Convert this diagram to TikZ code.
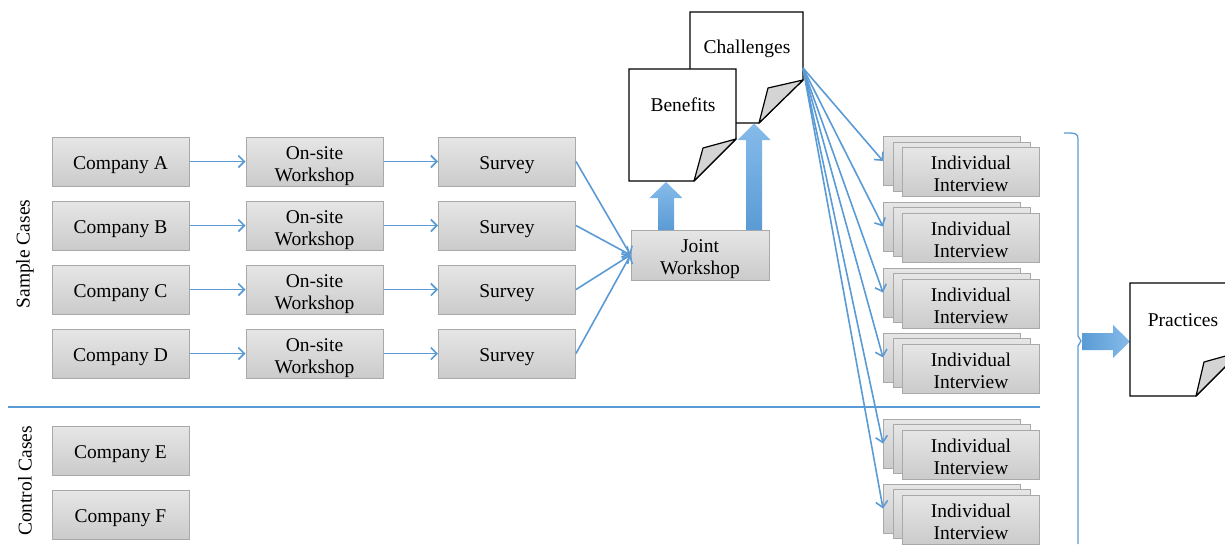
\documentclass[tikz,border=0pt]{standalone}
\usepackage{fontspec}
\setmainfont{Liberation Serif}
\usetikzlibrary{arrows.meta}
\definecolor{lineblue}{HTML}{5B9BD5}
\definecolor{arrowdark}{HTML}{5A9BD5}
\definecolor{arrowlight}{HTML}{86BBEA}
\definecolor{boxtop}{HTML}{E6E6E6}
\definecolor{boxbot}{HTML}{CBCBCB}
\definecolor{boxborder}{HTML}{A9A9A9}
\definecolor{foldgray}{HTML}{D4D4D4}
\newcommand{\myfs}{\fontsize{19.5}{22}\selectfont}
\tikzset{
  evenbase/.style={text depth=0pt, execute at begin node={\rule{0pt}{15pt}}},
  twoline/.style={text height=39pt, text depth=0pt},
  gbox/.style={draw=boxborder, line width=1pt, top color=boxtop, bottom color=boxbot,
    minimum width=137pt, minimum height=49pt, inner sep=0pt, align=center, font=\myfs, evenbase},
  conn/.style={draw=lineblue, line width=1.6pt, -{Straight Barb[length=6pt,width=12pt]}},
  plainline/.style={draw=lineblue, line width=1.3pt},
  docline/.style={draw=black, line width=1.2pt, fill=white},
  foldst/.style={draw=black, line width=1.2pt, fill=foldgray, line join=round},
  lbl/.style={font=\myfs, inner sep=0pt},
  doclbl/.style={lbl, evenbase}
}
\begin{document}
\begin{tikzpicture}[x=1pt,y=-1pt]
\useasboundingbox (0,0) rectangle (1225,544);
\clip (0,0) rectangle (1225,544);

% side labels
\node[lbl, rotate=90] (samplelbl) at (25,254) {Sample Cases};
\node[lbl, rotate=90] (controllbl) at (25,481) {Control Cases};

% separator
\draw[plainline] (8,407) -- (1040,407);

% companies
\node[gbox] (ca) at (120.5,161.5) {Company A};
\node[gbox] (cb) at (120.5,225.5) {Company B};
\node[gbox] (cc) at (120.5,289.5) {Company C};
\node[gbox] (cd) at (120.5,353.5) {Company D};
\node[gbox] (ce) at (120.5,450.5) {Company E};
\node[gbox] (cf) at (120.5,514.5) {Company F};

% workshops
\node[gbox, twoline] (wa) at (314.5,161.5) {On-site\\Workshop};
\node[gbox, twoline] (wb) at (314.5,225.5) {On-site\\Workshop};
\node[gbox, twoline] (wc) at (314.5,289.5) {On-site\\Workshop};
\node[gbox, twoline] (wd) at (314.5,353.5) {On-site\\Workshop};

% surveys
\node[gbox] (sa) at (507,161.5) {Survey};
\node[gbox] (sb) at (507,225.5) {Survey};
\node[gbox] (sc) at (507,289.5) {Survey};
\node[gbox] (sd) at (507,353.5) {Survey};

\foreach \r in {a,b,c,d}{
  \draw[conn] (c\r) -- (w\r);
  \draw[conn] (w\r) -- (s\r);
}

% documents
\filldraw[docline] (690,12) -- (803,12) -- (803,80) -- (759,123) -- (690,123) -- cycle;
\filldraw[foldst] (803,80) -- (768,88) -- (759,123) -- cycle;
\node[doclbl] (chal) at (747,46) {Challenges};
\coordinate (chout) at (803,68);

\filldraw[docline] (629,69) -- (736,69) -- (736,139) -- (694,181) -- (629,181) -- cycle;
\filldraw[foldst] (736,139) -- (703,148) -- (694,181) -- cycle;
\node[doclbl] (ben) at (683,104) {Benefits};

% joint workshop
\node[gbox, twoline, minimum width=138pt, minimum height=50pt] (jw) at (700,255) {Joint\\Workshop};
\foreach \r in {a,b,c,d}{
  \draw[conn] (s\r.east) -- (jw.west);
}

% block arrows up
\shade[top color=arrowlight, bottom color=arrowdark]
  (658,230) -- (658,198) -- (649.5,198) -- (666,182) -- (682.5,198) -- (674,198) -- (674,230) -- cycle;
\shade[top color=arrowlight, bottom color=arrowdark]
  (746,230) -- (746,140) -- (737.5,140) -- (754,123.5) -- (770.5,140) -- (762,140) -- (762,230) -- cycle;

% interview stacks
\foreach \i/\y in {1/172,2/237.5,3/303.5,4/368.5,5/454.5,6/519.5}{
  \node[gbox] (i\i b) at (952,\y-11) {};
  \node[gbox] (i\i m) at (961.5,\y-5.5) {};
  \node[gbox, twoline] (i\i f) at (971,\y) {Individual\\Interview};
  \draw[conn] (chout) -- (i\i b.west);
}

% bracket
\draw[plainline, line join=round] (1064,133) .. controls (1075,133) and (1078,133) .. (1078,139)
  -- (1078,336) -- (1081,341) -- (1078,346) -- (1078,544);

% right block arrow
\shade[left color=arrowdark, right color=arrowlight]
  (1082,333) -- (1113,333) -- (1113,325) -- (1130,341.5) -- (1113,358) -- (1113,350) -- (1082,350) -- cycle;

% practices document
\filldraw[docline] (1130,283) -- (1240,283) -- (1240,352) -- (1196,396) -- (1130,396) -- cycle;
\filldraw[foldst] (1240,352) -- (1204,362) -- (1196,396) -- cycle;
\node[doclbl] (prac) at (1183,319) {Practices};
\end{tikzpicture}
\end{document}
